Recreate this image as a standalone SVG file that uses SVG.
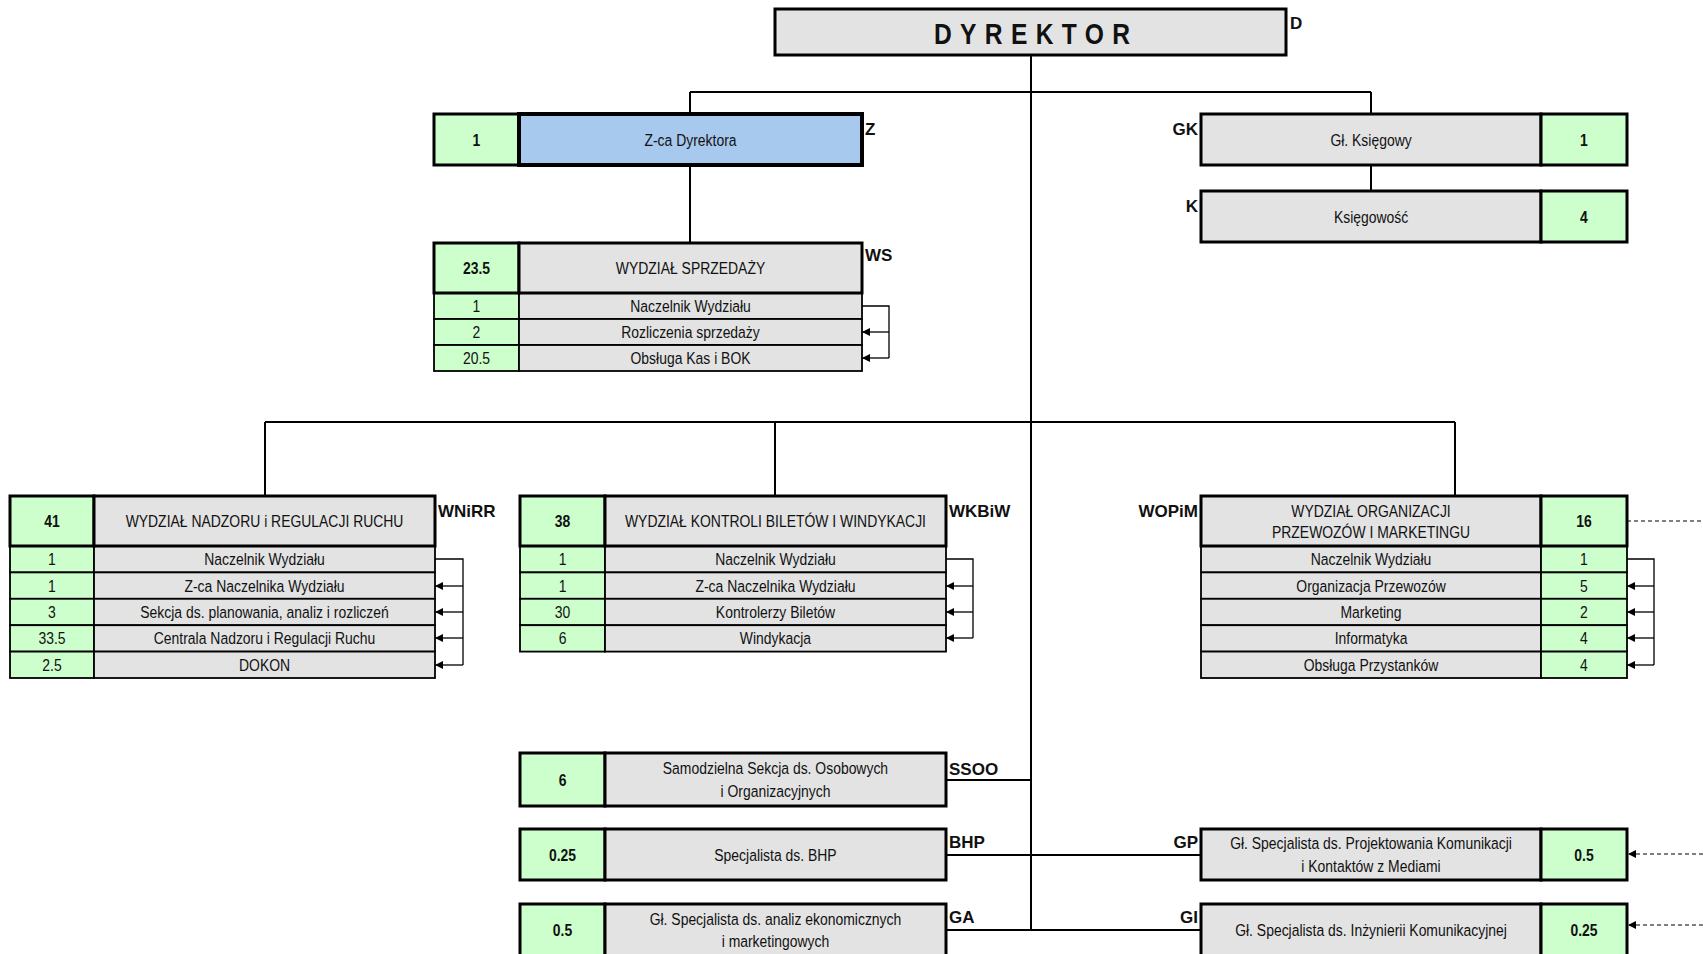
<svg xmlns="http://www.w3.org/2000/svg" width="1703" height="954" viewBox="0 0 1703 954">
<style>
.g{fill:#CCFFCC}
.gr{fill:#E3E3E3}
.bl{fill:#A8C9EE}
.bx{stroke:#000;stroke-width:3}
.bx4{stroke:#000;stroke-width:4}
.rw{stroke:#000;stroke-width:1.8}
.t{font-family:"Liberation Sans",Arial,sans-serif;font-size:17px;text-anchor:middle;fill:#111}
.b{font-weight:bold}
.code{font-family:"Liberation Sans",Arial,sans-serif;font-weight:bold;font-size:17px;fill:#111}
.end{text-anchor:end}
.ln{stroke:#000;stroke-width:2;fill:none}
.br{stroke:#000;stroke-width:1.3;fill:none}
.ds{stroke:#000;stroke-width:1.2;stroke-dasharray:4 3;fill:none}
</style>
<defs>
<marker id="ah" markerUnits="userSpaceOnUse" markerWidth="8" markerHeight="8" refX="8" refY="4" orient="auto">
<path d="M0,0 L8,4 L0,8 z" fill="#000"/>
</marker>
</defs>
<rect width="1703" height="954" fill="#fff"/>

<g id="connectors">
<path class="ln" d="M1031,55 V930"/>
<path class="ln" d="M690,92 H1371"/>
<path class="ln" d="M690,92 V114"/>
<path class="ln" d="M1371,92 V114"/>
<path class="ln" d="M690,165 V243"/>
<path class="ln" d="M1371,165 V191"/>
<path class="ln" d="M265,422 H1455"/>
<path class="ln" d="M265,422 V496"/>
<path class="ln" d="M775,422 V496"/>
<path class="ln" d="M1455,422 V496"/>
<path class="ln" d="M946,780 H1031"/>
<path class="ln" d="M946,855 H1201"/>
<path class="ln" d="M946,930 H1201"/>
<path class="br" d="M862,306 H889 V358"/>
<path class="br" d="M889,332 H862" marker-end="url(#ah)"/>
<path class="br" d="M889,358 H862" marker-end="url(#ah)"/>
<path class="br" d="M435,559 H463 V665"/>
<path class="br" d="M463,586 H435" marker-end="url(#ah)"/>
<path class="br" d="M463,612 H435" marker-end="url(#ah)"/>
<path class="br" d="M463,638 H435" marker-end="url(#ah)"/>
<path class="br" d="M463,665 H435" marker-end="url(#ah)"/>
<path class="br" d="M946,559 H973 V638"/>
<path class="br" d="M973,586 H946" marker-end="url(#ah)"/>
<path class="br" d="M973,612 H946" marker-end="url(#ah)"/>
<path class="br" d="M973,638 H946" marker-end="url(#ah)"/>
<path class="br" d="M1627,559 H1654 V665"/>
<path class="br" d="M1654,586 H1627" marker-end="url(#ah)"/>
<path class="br" d="M1654,612 H1627" marker-end="url(#ah)"/>
<path class="br" d="M1654,638 H1627" marker-end="url(#ah)"/>
<path class="br" d="M1654,665 H1627" marker-end="url(#ah)"/>
<path class="ds" d="M1627,521 H1703"/>
<path class="ds" d="M1703,854 H1628" marker-end="url(#ah)"/>
<path class="ds" d="M1703,925 H1628" marker-end="url(#ah)"/>
</g>

<g id="node-D">
<rect class="gr bx" x="775" y="9" width="511" height="46"/>
<text transform="scale(0.82,1)" x="1139" y="44" textLength="239" lengthAdjust="spacing" style="font-family:'Liberation Sans',Arial,sans-serif;font-weight:bold;font-size:30px;fill:#111">DYREKTOR</text>
<text class="code" x="1290" y="29">D</text>
</g>

<g id="node-Z">
<rect class="g bx" x="434" y="114" width="85" height="51"/>
<rect class="bl bx4" x="519" y="114" width="343" height="51"/>
<g transform="scale(0.82,1)">
<text class="t b" x="581.1" y="146">1</text>
<text class="t" x="842.1" y="146">Z-ca Dyrektora</text>
</g>
<text class="code" x="865" y="135">Z</text>
</g>

<g id="node-GK">
<rect class="gr bx" x="1201" y="114" width="340" height="51"/>
<rect class="g bx" x="1541" y="114" width="86" height="51"/>
<g transform="scale(0.82,1)">
<text class="t" x="1672" y="146">Gł. Księgowy</text>
<text class="t b" x="1931.7" y="146">1</text>
</g>
<text class="code end" x="1198" y="135">GK</text>
</g>

<g id="node-K">
<rect class="gr bx" x="1201" y="191" width="340" height="51"/>
<rect class="g bx" x="1541" y="191" width="86" height="51"/>
<g transform="scale(0.82,1)">
<text class="t" x="1672" y="223">Księgowość</text>
<text class="t b" x="1931.7" y="223">4</text>
</g>
<text class="code end" x="1198" y="212">K</text>
</g>

<g id="node-WS">
<rect class="g rw" x="434" y="293" width="85" height="26"/>
<rect class="gr rw" x="519" y="293" width="343" height="26"/>
<rect class="g rw" x="434" y="319" width="85" height="26"/>
<rect class="gr rw" x="519" y="319" width="343" height="26"/>
<rect class="g rw" x="434" y="345" width="85" height="26"/>
<rect class="gr rw" x="519" y="345" width="343" height="26"/>
<rect class="g bx" x="434" y="243" width="85" height="50"/>
<rect class="gr bx" x="519" y="243" width="343" height="50"/>
<g transform="scale(0.82,1)">
<text class="t b" x="581.1" y="274">23.5</text>
<text class="t" x="842.1" y="274">WYDZIAŁ SPRZEDAŻY</text>
<text class="t" x="581.1" y="312">1</text>
<text class="t" x="842.1" y="312">Naczelnik Wydziału</text>
<text class="t" x="581.1" y="338">2</text>
<text class="t" x="842.1" y="338">Rozliczenia sprzedaży</text>
<text class="t" x="581.1" y="364">20.5</text>
<text class="t" x="842.1" y="364">Obsługa Kas i BOK</text>
</g>
<text class="code" x="865" y="261">WS</text>
</g>

<g id="node-WNiRR">
<rect class="g rw" x="10" y="546" width="84" height="26.4"/>
<rect class="gr rw" x="94" y="546" width="341" height="26.4"/>
<rect class="g rw" x="10" y="572.4" width="84" height="26.4"/>
<rect class="gr rw" x="94" y="572.4" width="341" height="26.4"/>
<rect class="g rw" x="10" y="598.8" width="84" height="26.4"/>
<rect class="gr rw" x="94" y="598.8" width="341" height="26.4"/>
<rect class="g rw" x="10" y="625.2" width="84" height="26.4"/>
<rect class="gr rw" x="94" y="625.2" width="341" height="26.4"/>
<rect class="g rw" x="10" y="651.6" width="84" height="26.4"/>
<rect class="gr rw" x="94" y="651.6" width="341" height="26.4"/>
<rect class="g bx" x="10" y="496" width="84" height="50"/>
<rect class="gr bx" x="94" y="496" width="341" height="50"/>
<g transform="scale(0.82,1)">
<text class="t b" x="63.4" y="527">41</text>
<text class="t" x="322.6" y="527">WYDZIAŁ NADZORU i REGULACJI RUCHU</text>
<text class="t" x="63.4" y="565">1</text>
<text class="t" x="322.6" y="565">Naczelnik Wydziału</text>
<text class="t" x="63.4" y="592">1</text>
<text class="t" x="322.6" y="592">Z-ca Naczelnika Wydziału</text>
<text class="t" x="63.4" y="618">3</text>
<text class="t" x="322.6" y="618">Sekcja ds. planowania, analiz i rozliczeń</text>
<text class="t" x="63.4" y="644">33.5</text>
<text class="t" x="322.6" y="644">Centrala Nadzoru i Regulacji Ruchu</text>
<text class="t" x="63.4" y="671">2.5</text>
<text class="t" x="322.6" y="671">DOKON</text>
</g>
<text class="code" x="438" y="517">WNiRR</text>
</g>

<g id="node-WKBiW">
<rect class="g rw" x="520" y="546" width="85" height="26.4"/>
<rect class="gr rw" x="605" y="546" width="341" height="26.4"/>
<rect class="g rw" x="520" y="572.4" width="85" height="26.4"/>
<rect class="gr rw" x="605" y="572.4" width="341" height="26.4"/>
<rect class="g rw" x="520" y="598.8" width="85" height="26.4"/>
<rect class="gr rw" x="605" y="598.8" width="341" height="26.4"/>
<rect class="g rw" x="520" y="625.2" width="85" height="26.4"/>
<rect class="gr rw" x="605" y="625.2" width="341" height="26.4"/>
<rect class="g bx" x="520" y="496" width="85" height="50"/>
<rect class="gr bx" x="605" y="496" width="341" height="50"/>
<g transform="scale(0.82,1)">
<text class="t b" x="686" y="527">38</text>
<text class="t" x="945.7" y="527">WYDZIAŁ KONTROLI BILETÓW I WINDYKACJI</text>
<text class="t" x="686" y="565">1</text>
<text class="t" x="945.7" y="565">Naczelnik Wydziału</text>
<text class="t" x="686" y="592">1</text>
<text class="t" x="945.7" y="592">Z-ca Naczelnika Wydziału</text>
<text class="t" x="686" y="618">30</text>
<text class="t" x="945.7" y="618">Kontrolerzy Biletów</text>
<text class="t" x="686" y="644">6</text>
<text class="t" x="945.7" y="644">Windykacja</text>
</g>
<text class="code" x="949" y="517">WKBiW</text>
</g>

<g id="node-WOPiM">
<rect class="gr rw" x="1201" y="546" width="340" height="26.4"/>
<rect class="g rw" x="1541" y="546" width="86" height="26.4"/>
<rect class="gr rw" x="1201" y="572.4" width="340" height="26.4"/>
<rect class="g rw" x="1541" y="572.4" width="86" height="26.4"/>
<rect class="gr rw" x="1201" y="598.8" width="340" height="26.4"/>
<rect class="g rw" x="1541" y="598.8" width="86" height="26.4"/>
<rect class="gr rw" x="1201" y="625.2" width="340" height="26.4"/>
<rect class="g rw" x="1541" y="625.2" width="86" height="26.4"/>
<rect class="gr rw" x="1201" y="651.6" width="340" height="26.4"/>
<rect class="g rw" x="1541" y="651.6" width="86" height="26.4"/>
<rect class="gr bx" x="1201" y="496" width="340" height="50"/>
<rect class="g bx" x="1541" y="496" width="86" height="50"/>
<g transform="scale(0.82,1)">
<text class="t" x="1672" y="517">WYDZIAŁ ORGANIZACJI</text>
<text class="t" x="1672" y="538">PRZEWOZÓW I MARKETINGU</text>
<text class="t b" x="1931.7" y="527">16</text>
<text class="t" x="1672" y="565">Naczelnik Wydziału</text>
<text class="t" x="1931.7" y="565">1</text>
<text class="t" x="1672" y="592">Organizacja Przewozów</text>
<text class="t" x="1931.7" y="592">5</text>
<text class="t" x="1672" y="618">Marketing</text>
<text class="t" x="1931.7" y="618">2</text>
<text class="t" x="1672" y="644">Informatyka</text>
<text class="t" x="1931.7" y="644">4</text>
<text class="t" x="1672" y="671">Obsługa Przystanków</text>
<text class="t" x="1931.7" y="671">4</text>
</g>
<text class="code end" x="1198" y="517">WOPiM</text>
</g>

<g id="node-SSOO">
<rect class="g bx" x="520" y="753" width="85" height="53"/>
<rect class="gr bx" x="605" y="753" width="341" height="53"/>
<g transform="scale(0.82,1)">
<text class="t b" x="686" y="786">6</text>
<text class="t" x="945.7" y="774">Samodzielna Sekcja ds. Osobowych</text>
<text class="t" x="945.7" y="797">i Organizacyjnych</text>
</g>
<text class="code" x="949" y="775">SSOO</text>
</g>

<g id="node-BHP">
<rect class="g bx" x="520" y="829" width="85" height="51"/>
<rect class="gr bx" x="605" y="829" width="341" height="51"/>
<g transform="scale(0.82,1)">
<text class="t b" x="686" y="861">0.25</text>
<text class="t" x="945.7" y="861">Specjalista ds. BHP</text>
</g>
<text class="code" x="949" y="848">BHP</text>
</g>

<g id="node-GA">
<rect class="g bx" x="520" y="904" width="85" height="60"/>
<rect class="gr bx" x="605" y="904" width="341" height="60"/>
<g transform="scale(0.82,1)">
<text class="t b" x="686" y="936">0.5</text>
<text class="t" x="945.7" y="925">Gł. Specjalista ds. analiz ekonomicznych</text>
<text class="t" x="945.7" y="947">i marketingowych</text>
</g>
<text class="code" x="949" y="923">GA</text>
</g>

<g id="node-GP">
<rect class="gr bx" x="1201" y="829" width="340" height="51"/>
<rect class="g bx" x="1541" y="829" width="86" height="51"/>
<g transform="scale(0.82,1)">
<text class="t" x="1672" y="849">Gł. Specjalista ds. Projektowania Komunikacji</text>
<text class="t" x="1672" y="872">i Kontaktów z Mediami</text>
<text class="t b" x="1931.7" y="861">0.5</text>
</g>
<text class="code end" x="1198" y="848">GP</text>
</g>

<g id="node-GI">
<rect class="gr bx" x="1201" y="904" width="340" height="60"/>
<rect class="g bx" x="1541" y="904" width="86" height="60"/>
<g transform="scale(0.82,1)">
<text class="t" x="1672" y="936">Gł. Specjalista ds. Inżynierii Komunikacyjnej</text>
<text class="t b" x="1931.7" y="936">0.25</text>
</g>
<text class="code end" x="1198" y="923">GI</text>
</g>
</svg>
